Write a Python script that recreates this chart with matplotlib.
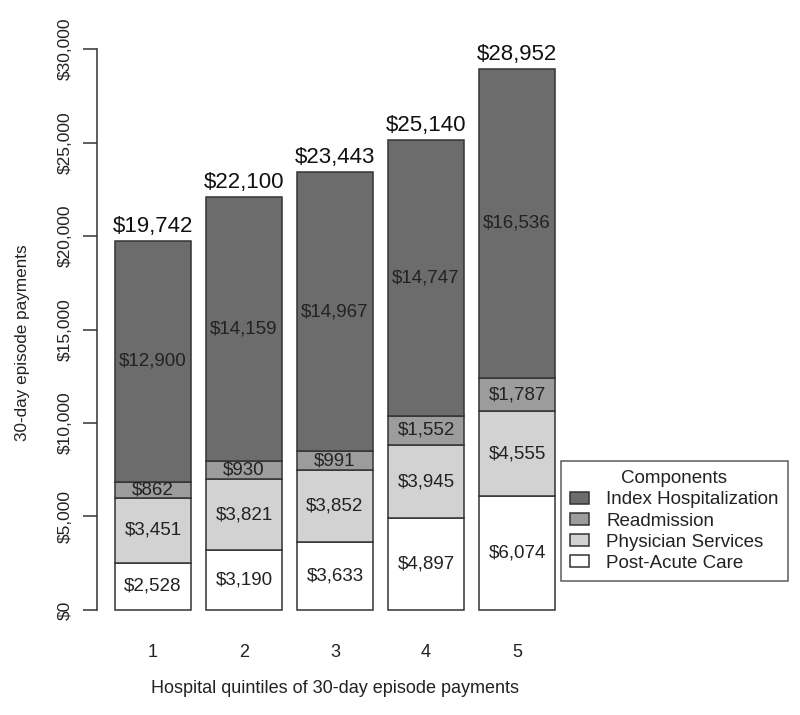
import matplotlib
matplotlib.use("Agg")
import matplotlib.pyplot as plt
import numpy as np

plt.rcParams["font.family"] = ["Liberation Sans", "DejaVu Sans"]

quintiles = ["1", "2", "3", "4", "5"]
components = ["Index Hospitalization", "Readmission", "Physician Services", "Post-Acute Care"]
post_acute = [2528, 3190, 3633, 4897, 6074]
physician = [3451, 3821, 3852, 3945, 4555]
readmission = [862, 930, 991, 1552, 1787]
index_hosp = [12900, 14159, 14967, 14747, 16536]
totals = [19742, 22100, 23443, 25140, 28952]
yticks = [0, 5000, 10000, 15000, 20000, 25000, 30000]

# bottom-to-top stacking order
stack = [
    ("Post-Acute Care", post_acute, "#ffffff"),
    ("Physician Services", physician, "#d2d2d2"),
    ("Readmission", readmission, "#9c9c9c"),
    ("Index Hospitalization", index_hosp, "#6c6c6c"),
]

W, H = 800, 715
fig = plt.figure(figsize=(8, 7.15), dpi=100)
ax = fig.add_axes([97.4 / W, (H - 632.4) / H, (572.6 - 97.4) / W, (632.4 - 26.6) / H])

x = 0.7 + 1.2 * np.arange(len(quintiles))
txt = "#222222"
bottom = np.zeros(len(quintiles))
handles = {}
for name, vals, color in stack:
    vals = np.array(vals, dtype=float)
    bars = ax.bar(x, vals, width=1.0, bottom=bottom, color=color,
                  edgecolor="#333333", linewidth=1.1)
    handles[name] = bars
    for xi, b, v in zip(x, bottom, vals):
        ax.text(xi, b + v / 2, f"${int(v):,}", ha="center", va="center",
                fontsize=13.5, color=txt)
    bottom += vals

for xi, top, t in zip(x, bottom, totals):
    ax.text(xi, top + 200, f"${t:,}", ha="center", va="bottom",
            fontsize=16, color="#111111", clip_on=False)

ax.set_xlim(-0.032, 6.232)
ax.set_ylim(-1200, 31200)
for s in ["top", "right", "bottom"]:
    ax.spines[s].set_visible(False)
ax.spines["left"].set_bounds(0, 30000)
ax.spines["left"].set_color("#333333")
ax.spines["left"].set_linewidth(1.1)
ax.set_yticks(yticks)
ax.set_yticklabels([f"${v:,}" for v in yticks], rotation=90, va="center",
                   fontsize=12.5, color=txt)
ax.tick_params(axis="y", length=10, width=1.1, color="#333333", pad=8)
ax.set_xticks(x)
ax.set_xticklabels(quintiles, fontsize=13, color=txt)
ax.tick_params(axis="x", length=0, pad=8)
ax.set_ylabel("30-day episode payments", fontsize=12.3, color=txt)
ax.yaxis.set_label_coords(-0.142, 0.478)
ax.set_xlabel("Hospital quintiles of 30-day episode payments", fontsize=13,
              color=txt, labelpad=14)

leg = fig.legend([handles[c] for c in components], components,
                 title="Components", loc="upper left",
                 bbox_to_anchor=(561 / W, (H - 461) / H),
                 fontsize=13.5, title_fontsize=13.5, frameon=True, fancybox=False,
                 edgecolor="#333333", handlelength=1.0, handleheight=0.6,
                 labelspacing=0.22, handletextpad=0.9, borderpad=0.5,
                 borderaxespad=0)
leg.get_frame().set_linewidth(1.1)
for t in leg.get_texts():
    t.set_color(txt)
leg.get_title().set_color(txt)

fig.savefig("out.png", dpi=100)
